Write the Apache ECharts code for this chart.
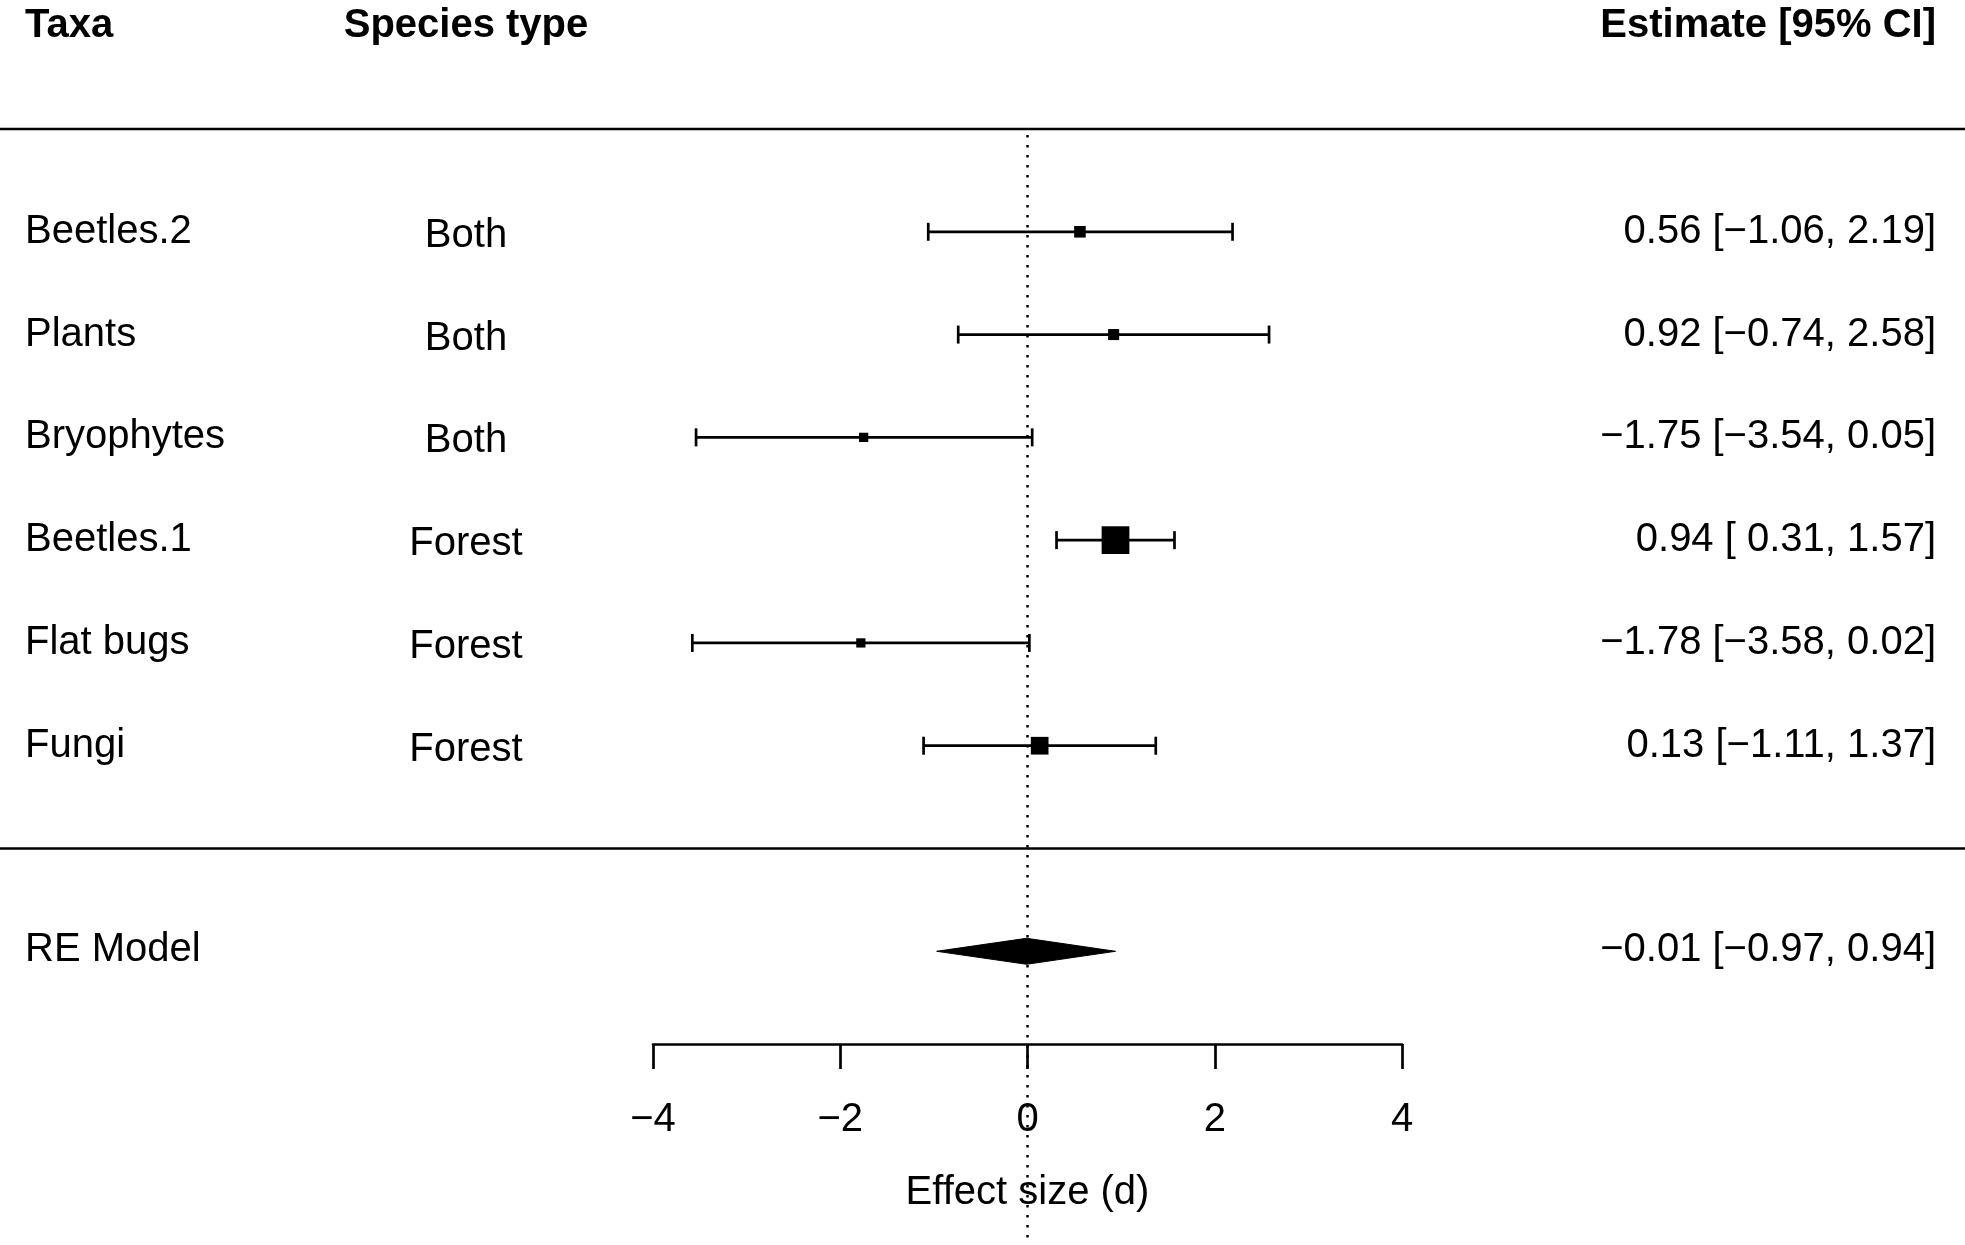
<!DOCTYPE html>
<html><head><meta charset="utf-8">
<script src="https://cdn.jsdelivr.net/npm/echarts@6/dist/echarts.min.js"></script>
<style>html,body{margin:0;padding:0;background:#fff}#chart{width:1965px;height:1245px}</style>
</head><body><div id="chart"></div>
<script>
// ---- data ----
const taxa = ['Beetles.2', 'Plants', 'Bryophytes', 'Beetles.1', 'Flat bugs', 'Fungi'];
const speciesType = ['Both', 'Both', 'Both', 'Forest', 'Forest', 'Forest'];
const estimate = [0.56, 0.92, -1.75, 0.94, -1.78, 0.13];
const ciLower = [-1.06, -0.74, -3.54, 0.31, -3.58, -1.11];
const ciUpper = [2.19, 2.58, 0.05, 1.57, 0.02, 1.37];
const weightPct = [15.1, 14.8, 13.8, 24.1, 13.8, 18.5];
const reLabel = 'RE Model';
const reEstimate = -0.01;
const reLower = -0.97;
const reUpper = 0.94;
const headers = ['Taxa', 'Species type', 'Estimate [95% CI]'];
const xTicks = [-4, -2, 0, 2, 4];
const axisTitle = 'Effect size (d)';

// ---- layout ----
const FONT = '"Liberation Sans", Arial, Helvetica, sans-serif';
const FS = 40;
const COL_TAXA = 25, COL_TYPE = 466, COL_EST = 1936;
const LW = 2.7, CAP = 9, SQ = 18.5, DIA_H = 13;
const nRows = taxa.length;

const minus = s => s.replace(/-/g, '\u2212');
const fmt = v => minus(v.toFixed(2));
const anyNegLo = ciLower.concat([reLower]).some(v => v < 0);
const anyNegHi = ciUpper.concat([reUpper]).some(v => v < 0);
const pad = (v, neg) => (neg && v >= 0 ? ' ' : '') + fmt(v);
const estText = (e, l, u) => fmt(e) + ' [' + pad(l, anyNegLo) + ', ' + pad(u, anyNegHi) + ']';

const wMin = Math.min(...weightPct), wMax = Math.max(...weightPct);

const rowData = taxa.map((t, i) => [estimate[i], nRows - i, ciLower[i], ciUpper[i], weightPct[i]]);
const textData = taxa.map((t, i) => [0, nRows - i, i]);

const chart = echarts.init(document.getElementById('chart'), null, {renderer: 'canvas'});
const black = '#000';

const option = {
  animation: false,
  backgroundColor: '#fff',
  grid: {left: 653, right: 563, top: 0, bottom: 201, containLabel: false},
  xAxis: {
    type: 'value', min: -4, max: 4, interval: 2, position: 'bottom',
    axisLine: {show: true, onZero: false, lineStyle: {color: black, width: LW}},
    axisTick: {show: true, length: 25, lineStyle: {color: black, width: LW}},
    splitLine: {show: false},
    axisLabel: {
      show: true, margin: 56, color: black, fontSize: FS, fontFamily: FONT,
      formatter: v => xTicks.includes(v) ? minus(String(v)) : ''
    },
    name: axisTitle, nameLocation: 'middle', nameGap: 129,
    nameTextStyle: {color: black, fontSize: FS, fontFamily: FONT}
  },
  yAxis: {type: 'value', min: -1.902, max: 8.255, show: false},
  series: [
    { // reference dotted line
      type: 'custom', clip: false, z: 1, silent: true,
      data: [[0, nRows + 1]],
      renderItem: (params, api) => {
        const p = api.coord([api.value(0), api.value(1)]);
        return {type: 'line', shape: {x1: p[0], y1: p[1] + 6, x2: p[0], y2: api.getHeight()},
          style: {stroke: black, lineWidth: 2.5, lineDash: [2.5, 7.5]}};
      }
    },
    { // horizontal separators
      type: 'custom', clip: false, z: 2, silent: true,
      data: [[0, nRows + 1], [0, 0]],
      renderItem: (params, api) => {
        const p = api.coord([0, api.value(1)]);
        return {type: 'line', shape: {x1: 0, y1: p[1], x2: api.getWidth(), y2: p[1]},
          style: {stroke: black, lineWidth: LW}};
      }
    },
    { // CIs + squares
      type: 'custom', clip: false, z: 3, silent: true,
      encode: {x: [0, 2, 3], y: 1},
      data: rowData,
      renderItem: (params, api) => {
        const row = api.value(1);
        const pE = api.coord([api.value(0), row]);
        const pL = api.coord([api.value(2), row]);
        const pH = api.coord([api.value(3), row]);
        const t = (api.value(4) - wMin) / (wMax - wMin);
        const s = SQ * (0.5 + t);
        const st = {stroke: black, lineWidth: LW};
        return {type: 'group', children: [
          {type: 'line', shape: {x1: pL[0], y1: pL[1], x2: pH[0], y2: pH[1]}, style: st},
          {type: 'line', shape: {x1: pL[0], y1: pL[1] - CAP, x2: pL[0], y2: pL[1] + CAP}, style: st},
          {type: 'line', shape: {x1: pH[0], y1: pH[1] - CAP, x2: pH[0], y2: pH[1] + CAP}, style: st},
          {type: 'rect', shape: {x: pE[0] - s / 2, y: pE[1] - s / 2, width: s, height: s}, style: {fill: black}}
        ]};
      }
    },
    { // RE diamond
      type: 'custom', clip: false, z: 3, silent: true,
      encode: {x: [0, 2, 3], y: 1},
      data: [[reEstimate, -1, reLower, reUpper]],
      renderItem: (params, api) => {
        const row = api.value(1);
        const pE = api.coord([api.value(0), row]);
        const pL = api.coord([api.value(2), row]);
        const pH = api.coord([api.value(3), row]);
        return {type: 'polygon', shape: {points: [[pL[0], pL[1]], [pE[0], pE[1] - DIA_H], [pH[0], pH[1]], [pE[0], pE[1] + DIA_H]]},
          style: {fill: black, stroke: black, lineWidth: 1}};
      }
    },
    { // row texts
      type: 'custom', clip: false, z: 4, silent: true,
      data: textData,
      renderItem: (params, api) => {
        const i = api.value(2);
        const y = api.coord([0, api.value(1)])[1];
        const base = {fill: black, fontSize: FS, fontFamily: FONT, verticalAlign: 'middle'};
        return {type: 'group', children: [
          {type: 'text', x: COL_TAXA, y: y, style: Object.assign({}, base, {text: taxa[i], align: 'left'})},
          {type: 'text', x: COL_TYPE, y: y + 4, style: Object.assign({}, base, {text: speciesType[i], align: 'center'})},
          {type: 'text', x: COL_EST, y: y, style: Object.assign({}, base, {text: estText(estimate[i], ciLower[i], ciUpper[i]), align: 'right'})}
        ]};
      }
    },
    { // RE text + headers
      type: 'custom', clip: false, z: 4, silent: true,
      data: [[0, -1]],
      renderItem: (params, api) => {
        const yRE = api.coord([0, -1])[1];
        const yH = api.coord([0, nRows + 2])[1];
        const base = {fill: black, fontSize: FS, fontFamily: FONT, verticalAlign: 'middle'};
        const bold = Object.assign({}, base, {fontWeight: 'bold'});
        return {type: 'group', children: [
          {type: 'text', x: COL_TAXA, y: yRE - 1, style: Object.assign({}, base, {text: reLabel, align: 'left'})},
          {type: 'text', x: COL_EST, y: yRE - 1, style: Object.assign({}, base, {text: estText(reEstimate, reLower, reUpper), align: 'right'})},
          {type: 'text', x: COL_TAXA, y: yH, style: Object.assign({}, bold, {text: headers[0], align: 'left'})},
          {type: 'text', x: COL_TYPE, y: yH, style: Object.assign({}, bold, {text: headers[1], align: 'center'})},
          {type: 'text', x: COL_EST, y: yH, style: Object.assign({}, bold, {text: headers[2], align: 'right'})}
        ]};
      }
    }
  ]
};
chart.setOption(option);
</script>
</body></html>
